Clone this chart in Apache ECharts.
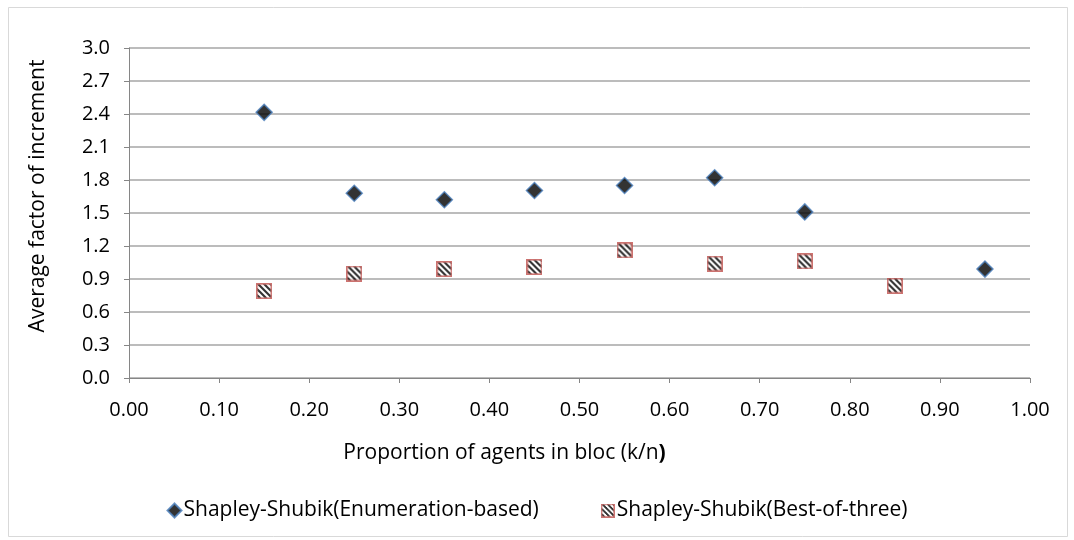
<!DOCTYPE html>
<html><head><meta charset="utf-8">
<script src="https://cdn.jsdelivr.net/npm/echarts@6/dist/echarts.min.js"></script>
<style>html,body{margin:0;padding:0;background:#fff}#c{width:1074px;height:540px}</style>
</head><body><div id="c"></div>
<script>
const enumX = [0.15, 0.25, 0.35, 0.45, 0.55, 0.65, 0.75, 0.95];
const enumY = [2.415, 1.68, 1.62, 1.705, 1.75, 1.82, 1.51, 0.99];
const bestX = [0.15, 0.25, 0.35, 0.45, 0.55, 0.65, 0.75, 0.85];
const bestY = [0.79, 0.95, 0.99, 1.01, 1.16, 1.04, 1.06, 0.84];
const seriesNames = ['Shapley-Shubik(Enumeration-based)', 'Shapley-Shubik(Best-of-three)'];
const xAxisTitle = 'Proportion of agents in bloc (k/n';
const yAxisTitle = 'Average factor of increment';

// striped square symbol with red border
const S = 16;
const pc = document.createElement('canvas');
pc.width = S; pc.height = S;
const g = pc.getContext('2d');
for (let y = 0; y < S; y++) for (let x = 0; x < S; x++) {
  g.fillStyle = (((x - y) % 6 + 6) % 6) < 3 ? '#000' : '#fff';
  g.fillRect(x, y, 1, 1);
}
g.strokeStyle = '#c0504d'; g.lineWidth = 1.6;
g.strokeRect(0.8, 0.8, S - 1.6, S - 1.6);
const stripeSymbol = 'image://' + pc.toDataURL();

const font = "'Open Sans', 'Noto Sans', sans-serif";
const chart = echarts.init(document.getElementById('c'), null, { renderer: 'canvas' });
chart.setOption({
  backgroundColor: '#fff',
  animation: false,
  textStyle: { fontFamily: font },
  graphic: [{ type: 'rect', shape: { x: 8.5, y: 7.5, width: 1059, height: 529 }, style: { fill: 'none', stroke: '#d9d9d9', lineWidth: 1 }, silent: true }],
  grid: { left: 129, right: 44, top: 48, bottom: 162 },
  xAxis: {
    type: 'value', min: 0, max: 1, interval: 0.1,
    name: '{n|' + xAxisTitle + '}{b|)}', nameLocation: 'middle', nameGap: 65,
    nameTextStyle: { fontSize: 21, color: '#000', fontFamily: font, padding: [0, 150, 0, 0],
      rich: { n: { fontSize: 21, color: '#000', fontFamily: font }, b: { fontSize: 21, color: '#000', fontWeight: 'bold', fontFamily: font } } },
    axisLine: { lineStyle: { color: '#868686', width: 1 } },
    axisTick: { show: true, length: 5, lineStyle: { color: '#868686' } },
    axisLabel: { color: '#000', fontSize: 20, margin: 22, formatter: v => v.toFixed(2) },
    splitLine: { show: false }
  },
  yAxis: {
    type: 'value', min: 0, max: 3, interval: 0.3,
    name: yAxisTitle, nameLocation: 'middle', nameGap: 80, nameRotate: 90,
    nameTextStyle: { fontSize: 21, color: '#000', fontFamily: font, padding: [0, 0, 0, 34] },
    axisLine: { show: true, lineStyle: { color: '#868686', width: 1 } },
    axisTick: { show: true, length: 5, lineStyle: { color: '#868686' } },
    axisLabel: { color: '#000', fontSize: 20, margin: 19, formatter: v => v.toFixed(1) },
    splitLine: { lineStyle: { color: '#a6a6a6', width: 1.5 } }
  },
  legend: {
    bottom: 14, left: 'center', itemGap: 62, itemWidth: 14, itemHeight: 14,
    textStyle: { fontSize: 21, color: '#000', fontFamily: font, padding: [0, 0, 0, -3] },
    data: [
      { name: seriesNames[0], icon: 'diamond' },
      { name: seriesNames[1], icon: stripeSymbol }
    ]
  },
  series: [
    {
      name: seriesNames[0], type: 'scatter', symbol: 'diamond', symbolSize: 16,
      itemStyle: { color: '#000', borderColor: '#4a7ebb', borderWidth: 1.5 },
      data: enumX.map((x, i) => [x, enumY[i]])
    },
    {
      name: seriesNames[1], type: 'scatter', symbol: stripeSymbol, symbolSize: 16,
      itemStyle: { color: '#000' },
      data: bestX.map((x, i) => [x, bestY[i]])
    }
  ]
});
</script>
</body></html>
